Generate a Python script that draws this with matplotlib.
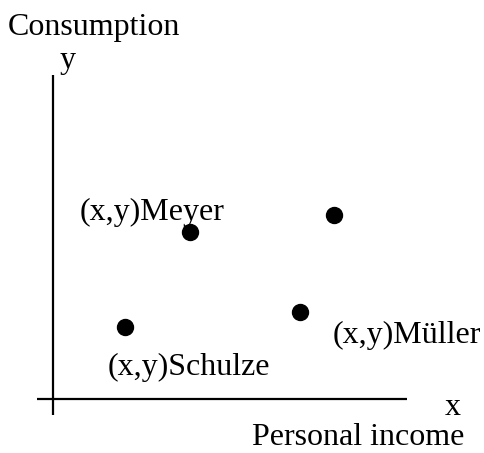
import matplotlib.pyplot as plt

# points in the picture frame (x to the right, y downward)
names = ['(x,y)Schulze', '(x,y)Meyer', '(x,y)Müller', '']
px = [125, 190, 300, 334]
py = [327, 232, 312, 215]
# label anchors (left, baseline)
lx = [108, 80, 333, 0]
ly = [375, 220, 343, 0]

plt.rcParams['font.family'] = ['Liberation Serif', 'DejaVu Serif']

fig = plt.figure(figsize=(4.85, 4.53), dpi=100)
ax = fig.add_axes([0, 0, 1, 1])
ax.set_xlim(0, 485)
ax.set_ylim(453, 0)
ax.axis('off')

# axes drawn by hand
ax.plot([53, 53], [75, 415], color='black', lw=1.6, solid_capstyle='butt')
ax.plot([37, 407], [399, 399], color='black', lw=1.6, solid_capstyle='butt')

ax.plot(px, py, 'o', color='black', markersize=11.5, linestyle='none')

for name, x, y in zip(names, lx, ly):
    if name:
        ax.text(x, y, name, fontsize=23, va='baseline', ha='left')

ax.text(8, 35, 'Consumption', fontsize=23, va='baseline', ha='left')
ax.text(60, 68, 'y', fontsize=23, va='baseline', ha='left')
ax.text(445, 415, 'x', fontsize=23, va='baseline', ha='left')
ax.text(252, 445, 'Personal income', fontsize=23, va='baseline', ha='left')

fig.savefig('out.png', dpi=100)
